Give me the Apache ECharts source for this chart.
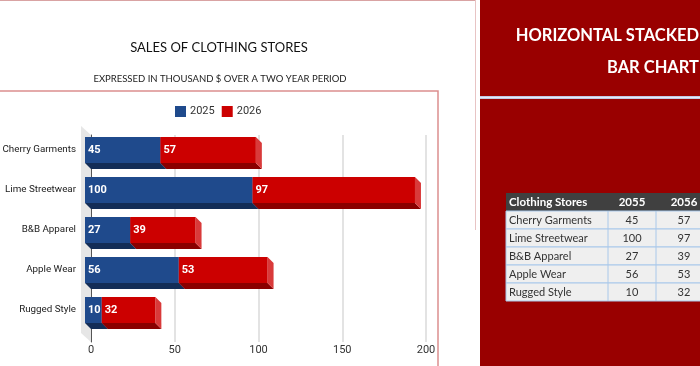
<!DOCTYPE html>
<html>
<head>
<meta charset="utf-8">
<script src="https://cdn.jsdelivr.net/npm/echarts@6/dist/echarts.min.js"></script>
<style>
  html, body { margin: 0; padding: 0; background: #fff; }
  #main { width: 700px; height: 366px; }
</style>
</head>
<body>
<div id="main"></div>
<script>
var stores = ['Cherry Garments', 'Lime Streetwear', 'B&B Apparel', 'Apple Wear', 'Rugged Style'];
var sales2025 = [45, 100, 27, 56, 10];
var sales2026 = [57, 97, 39, 53, 32];
var seriesNames = ['2025', '2026'];
var tableHead = ['Clothing Stores', '2055', '2056'];
var xMin = 0, xMax = 200, xStep = 50;

var blue = { front: '#1f4a8c', bottom: '#132d57', side: '#2e5ca0' };
var red = { front: '#cc0000', bottom: '#8a0000', side: '#d93a3a' };
var depth = 6, barH = 26;

var myChart = echarts.init(document.getElementById('main'));

// 3d looking bar: front face shifted left, depth goes right/down
function bar3d(colors) {
    return function (params, api) {
        var cat = api.value(0);
        var p0 = api.coord([api.value(1), cat]);
        var p1 = api.coord([api.value(2), cat]);
        var x0 = p0[0] - depth, x1 = p1[0] - depth;
        var top = p0[1] - barH / 2, bot = p0[1] + barH / 2;
        return {
            type: 'group',
            children: [{
                type: 'polygon',
                shape: { points: [[x0, bot], [x1, bot], [x1 + depth, bot + depth], [x0 + depth, bot + depth]] },
                style: { fill: colors.bottom }
            }, {
                type: 'polygon',
                shape: { points: [[x1, top], [x1 + depth, top + depth], [x1 + depth, bot + depth], [x1, bot]] },
                style: { fill: colors.side }
            }, {
                type: 'rect',
                shape: { x: x0, y: top, width: x1 - x0, height: barH },
                style: { fill: colors.front }
            }, {
                type: 'text',
                x: x0 + 3,
                y: p0[1],
                style: {
                    text: String(api.value(3)),
                    fill: '#fff',
                    font: 'bold 11px Roboto',
                    verticalAlign: 'middle'
                }
            }]
        };
    };
}

var data2025 = stores.map(function (s, i) {
    return [i, 0, sales2025[i], sales2025[i]];
});
var data2026 = stores.map(function (s, i) {
    return [i, sales2025[i], sales2025[i] + sales2026[i], sales2026[i]];
});

// table on the right panel
var tbl = [];
var tx = 506, ty = 193, rowH = 18;
var colX = [506, 608, 656, 712];
tbl.push({ type: 'rect', shape: { x: tx, y: ty, width: 200, height: rowH }, style: { fill: '#404040' } });
tableHead.forEach(function (h, c) {
    tbl.push({
        type: 'text',
        x: c === 0 ? colX[0] + 3 : (colX[c] + colX[c + 1]) / 2,
        y: ty + rowH / 2,
        style: { text: h, fill: '#fff', font: 'bold 11.5px Lato', align: c === 0 ? 'left' : 'center', verticalAlign: 'middle' }
    });
});
stores.forEach(function (s, i) {
    var ry = ty + rowH * (i + 1);
    tbl.push({ type: 'rect', shape: { x: tx, y: ry, width: 200, height: rowH }, style: { fill: '#efefef', stroke: '#a9c8ea', lineWidth: 1 } });
    [s, sales2025[i], sales2026[i]].forEach(function (v, c) {
        tbl.push({
            type: 'text',
            x: c === 0 ? colX[0] + 3 : (colX[c] + colX[c + 1]) / 2,
            y: ry + rowH / 2,
            style: { text: String(v), fill: '#333', font: '11px Lato', align: c === 0 ? 'left' : 'center', verticalAlign: 'middle' }
        });
    });
});
[608, 656].forEach(function (x) {
    tbl.push({ type: 'line', shape: { x1: x, y1: ty + rowH, x2: x, y2: ty + rowH * 6 }, style: { stroke: '#a9c8ea', lineWidth: 1 } });
});

var option = {
    backgroundColor: '#fff',
    animation: false,
    title: [{
        text: 'SALES OF CLOTHING STORES',
        left: 214, top: 36, textAlign: 'center',
        textStyle: { fontFamily: 'Lato', fontSize: 13, fontWeight: 'normal', color: '#111' }
    }, {
        text: 'EXPRESSED IN THOUSAND $ OVER A TWO YEAR PERIOD',
        left: 215, top: 69, textAlign: 'center',
        textStyle: { fontFamily: 'Lato', fontSize: 9.5, fontWeight: 'normal', color: '#222' }
    }],
    legend: {
        data: seriesNames,
        left: 175, top: 106, padding: 0,
        itemWidth: 11, itemHeight: 11, itemGap: 7,
        icon: 'rect',
        textStyle: { fontFamily: 'Roboto', fontSize: 11, color: '#333', padding: [0, 0, 0, -1] }
    },
    grid: [
        { left: 91, right: 274, top: 130, bottom: 36, outerBoundsMode: 'none' },
        { left: 91, right: 274, top: 135, bottom: 24, outerBoundsMode: 'none' }
    ],
    xAxis: [{
        gridIndex: 0, type: 'value', min: xMin, max: xMax, interval: xStep, show: false
    }, {
        gridIndex: 1, type: 'value', min: xMin, max: xMax, interval: xStep,
        axisLine: { show: false }, axisTick: { show: false },
        axisLabel: { margin: 3, fontFamily: 'Roboto', fontSize: 11, color: '#333' },
        splitLine: { lineStyle: { color: '#dadada', width: 1.5 } }
    }],
    yAxis: [{
        gridIndex: 0, type: 'category', data: stores, inverse: true,
        axisLine: { show: false }, axisTick: { show: false },
        axisLabel: { margin: 15, fontFamily: 'Roboto', fontSize: 9.8, color: '#222' }
    }, {
        gridIndex: 1, type: 'category', data: stores, inverse: true,
        axisLine: { show: true, lineStyle: { color: '#555', width: 1 } },
        axisTick: { show: false }, axisLabel: { show: false }
    }],
    series: [{
        type: 'custom',
        xAxisIndex: 1, yAxisIndex: 1,
        z: 1,
        silent: true,
        data: [[0]],
        renderItem: function (params) {
            var cs = params.coordSys;
            return {
                type: 'polygon',
                shape: { points: [[cs.x - 10, cs.y - 9], [cs.x, cs.y], [cs.x, cs.y + cs.height], [cs.x - 10, cs.y + cs.height - 9]] },
                style: { fill: '#e6e6e6' }
            };
        }
    }, {
        name: seriesNames[0],
        type: 'custom',
        xAxisIndex: 0, yAxisIndex: 0,
        z: 3,
        itemStyle: { color: blue.front },
        encode: { x: [1, 2], y: 0 },
        data: data2025,
        renderItem: bar3d(blue)
    }, {
        name: seriesNames[1],
        type: 'custom',
        xAxisIndex: 0, yAxisIndex: 0,
        z: 3,
        itemStyle: { color: red.front },
        encode: { x: [1, 2], y: 0 },
        data: data2026,
        renderItem: bar3d(red)
    }],
    graphic: [{
        type: 'group',
        silent: true,
        children: [
            { type: 'line', shape: { x1: 0, y1: 0.5, x2: 476, y2: 0.5 }, style: { stroke: '#d9a3a3', lineWidth: 1 } },
            { type: 'line', shape: { x1: 475.5, y1: 0, x2: 475.5, y2: 230 }, style: { stroke: '#e8c4c4', lineWidth: 1 } },
            { type: 'rect', shape: { x: -2, y: 91, width: 440, height: 300 }, style: { fill: 'none', stroke: '#dc8e8e', lineWidth: 1.5 } },
            { type: 'rect', shape: { x: 480, y: 0, width: 220, height: 366 }, style: { fill: '#990000' } },
            { type: 'rect', shape: { x: 480, y: 96, width: 220, height: 3 }, style: { fill: '#c3c8e6' } },
            { type: 'line', shape: { x1: 480, y1: 97.5, x2: 700, y2: 97.5 }, style: { stroke: '#e8eaf6', lineWidth: 1 } },
            {
                type: 'text', x: 699, y: 36,
                style: { text: 'HORIZONTAL STACKED', fill: '#fff', font: 'bold 16.5px Lato', align: 'right', verticalAlign: 'middle' }
            },
            {
                type: 'text', x: 699, y: 68,
                style: { text: 'BAR CHART', fill: '#fff', font: 'bold 16.5px Lato', align: 'right', verticalAlign: 'middle' }
            }
        ].concat(tbl)
    }]
};

myChart.setOption(option);
</script>
</body>
</html>
